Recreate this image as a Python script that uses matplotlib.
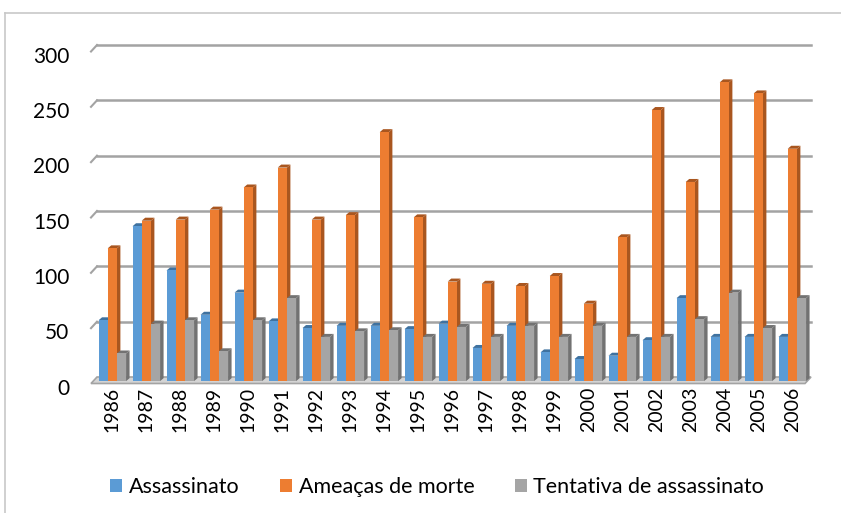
import matplotlib.pyplot as plt
from matplotlib.patches import Polygon, Rectangle
from matplotlib.lines import Line2D
from matplotlib.transforms import ScaledTranslation

years = ['1986', '1987', '1988', '1989', '1990', '1991', '1992', '1993', '1994', '1995', '1996',
         '1997', '1998', '1999', '2000', '2001', '2002', '2003', '2004', '2005', '2006']
assassinato = [55, 140, 100, 60, 80, 54, 48, 50, 50, 47, 52, 30, 50, 26, 20, 23, 37, 75, 40, 40, 40]
ameacas = [120, 145, 146, 155, 175, 193, 146, 150, 225, 148, 90, 88, 86, 95, 70, 130, 245, 180, 270, 260, 210]
tentativa = [25, 52, 55, 27, 55, 75, 40, 45, 46, 40, 49, 40, 50, 40, 50, 40, 40, 56, 80, 48, 75]

series = [
    ('Assassinato', assassinato, '#5b9bd5', '#3f72a0'),
    ('Ameaças de morte', ameacas, '#ed7d31', '#a9561f'),
    ('Tentativa de assassinato', tentativa, '#a5a5a5', '#727272'),
]

plt.rcParams['font.family'] = ['Lato', 'DejaVu Sans']
plt.rcParams['font.size'] = 15

W, H = 841, 513
fig = plt.figure(figsize=(W / 100, H / 100), dpi=100)
ax = fig.add_axes([97 / W, 1 - 377 / H, (811 - 97) / W, (377 - 45) / H])
ax.set_xlim(-0.45, len(years) - 0.45)
ax.set_ylim(0, 300)
for s in ax.spines.values():
    s.set_visible(False)

# depth of the 3d look, in pixels -> data units
p0 = ax.transData.transform((0, 0))
p1 = ax.transData.transform((1, 1))
dx = 3.5 / (p1[0] - p0[0])
dy = 3.0 / (p1[1] - p0[1])
gx = 6.0 / (p1[0] - p0[0])
gy = 6.5 / (p1[1] - p0[1])
x0, x1 = ax.get_xlim()

# gridlines on the back wall with the small diagonal on the left
for v in range(50, 301, 50):
    ax.plot([x0, x1], [v, v], color='#a3a3a3', lw=1.8, zorder=1, clip_on=False)
    ax.plot([x0 - gx, x0], [v - gy, v], color='#a3a3a3', lw=1.5, zorder=1, clip_on=False)

# floor
floor = Polygon([(x0, 0), (x1, 0), (x1 - gx, -gy), (x0 - gx, -gy)], closed=True,
                facecolor='#d4d4d4', edgecolor='#a3a3a3', lw=1.2, zorder=1, clip_on=False)
ax.add_patch(floor)

# bars stand on the front of the floor, a few pixels below the back wall
shift = ax.transData + ScaledTranslation(0, -3 / 72, fig.dpi_scale_trans)

width = 0.27
for k, (name, vals, color, dark) in enumerate(series):
    off = (k - 1) * width
    z = 2 + k
    for i, h in enumerate(vals):
        left = i + off - width / 2
        right = left + width
        ax.add_patch(Polygon([(right, 0), (right + dx, dy), (right + dx, h + dy), (right, h)],
                             closed=True, facecolor=dark, edgecolor='none', zorder=z,
                             transform=shift, clip_on=False))
        ax.add_patch(Polygon([(left, h), (right, h), (right + dx, h + dy), (left + dx, h + dy)],
                             closed=True, facecolor=dark, edgecolor='none', zorder=z,
                             transform=shift, clip_on=False))
    bars = ax.bar([i + off for i in range(len(years))], vals, width=width, color=color,
                  zorder=z, label=name)
    for b in bars:
        b.set_transform(shift)
        b.set_clip_on(False)

ax.set_yticks(range(0, 301, 50))
ax.tick_params(axis='y', length=0, pad=20, labelsize=15)
for lab in ax.get_yticklabels():
    lab.set_transform(lab.get_transform() + ScaledTranslation(0, -7 / 72, fig.dpi_scale_trans))
ax.set_xticks(range(len(years)))
ax.set_xticklabels(years, rotation=90)
ax.tick_params(axis='x', length=0, pad=7, labelsize=14)

handles = [Rectangle((0, 0), 1, 1, facecolor=c) for _, _, c, _ in series]
fig.legend(handles, [n for n, _, _, _ in series], loc='center', bbox_to_anchor=(0.52, 1 - 487 / H),
           ncol=3, frameon=False, handlelength=0.55, handleheight=0.55, handletextpad=0.3,
           columnspacing=1.9, fontsize=15.5)

# chart border (left and top visible)
bx = 5 / W
by = 1 - 13 / H
fig.add_artist(Line2D([bx, 1], [by, by], color='#c8c8c8', lw=1.2))
fig.add_artist(Line2D([bx, bx], [0, by], color='#c8c8c8', lw=1.2))

fig.savefig('out.png', dpi=100)
